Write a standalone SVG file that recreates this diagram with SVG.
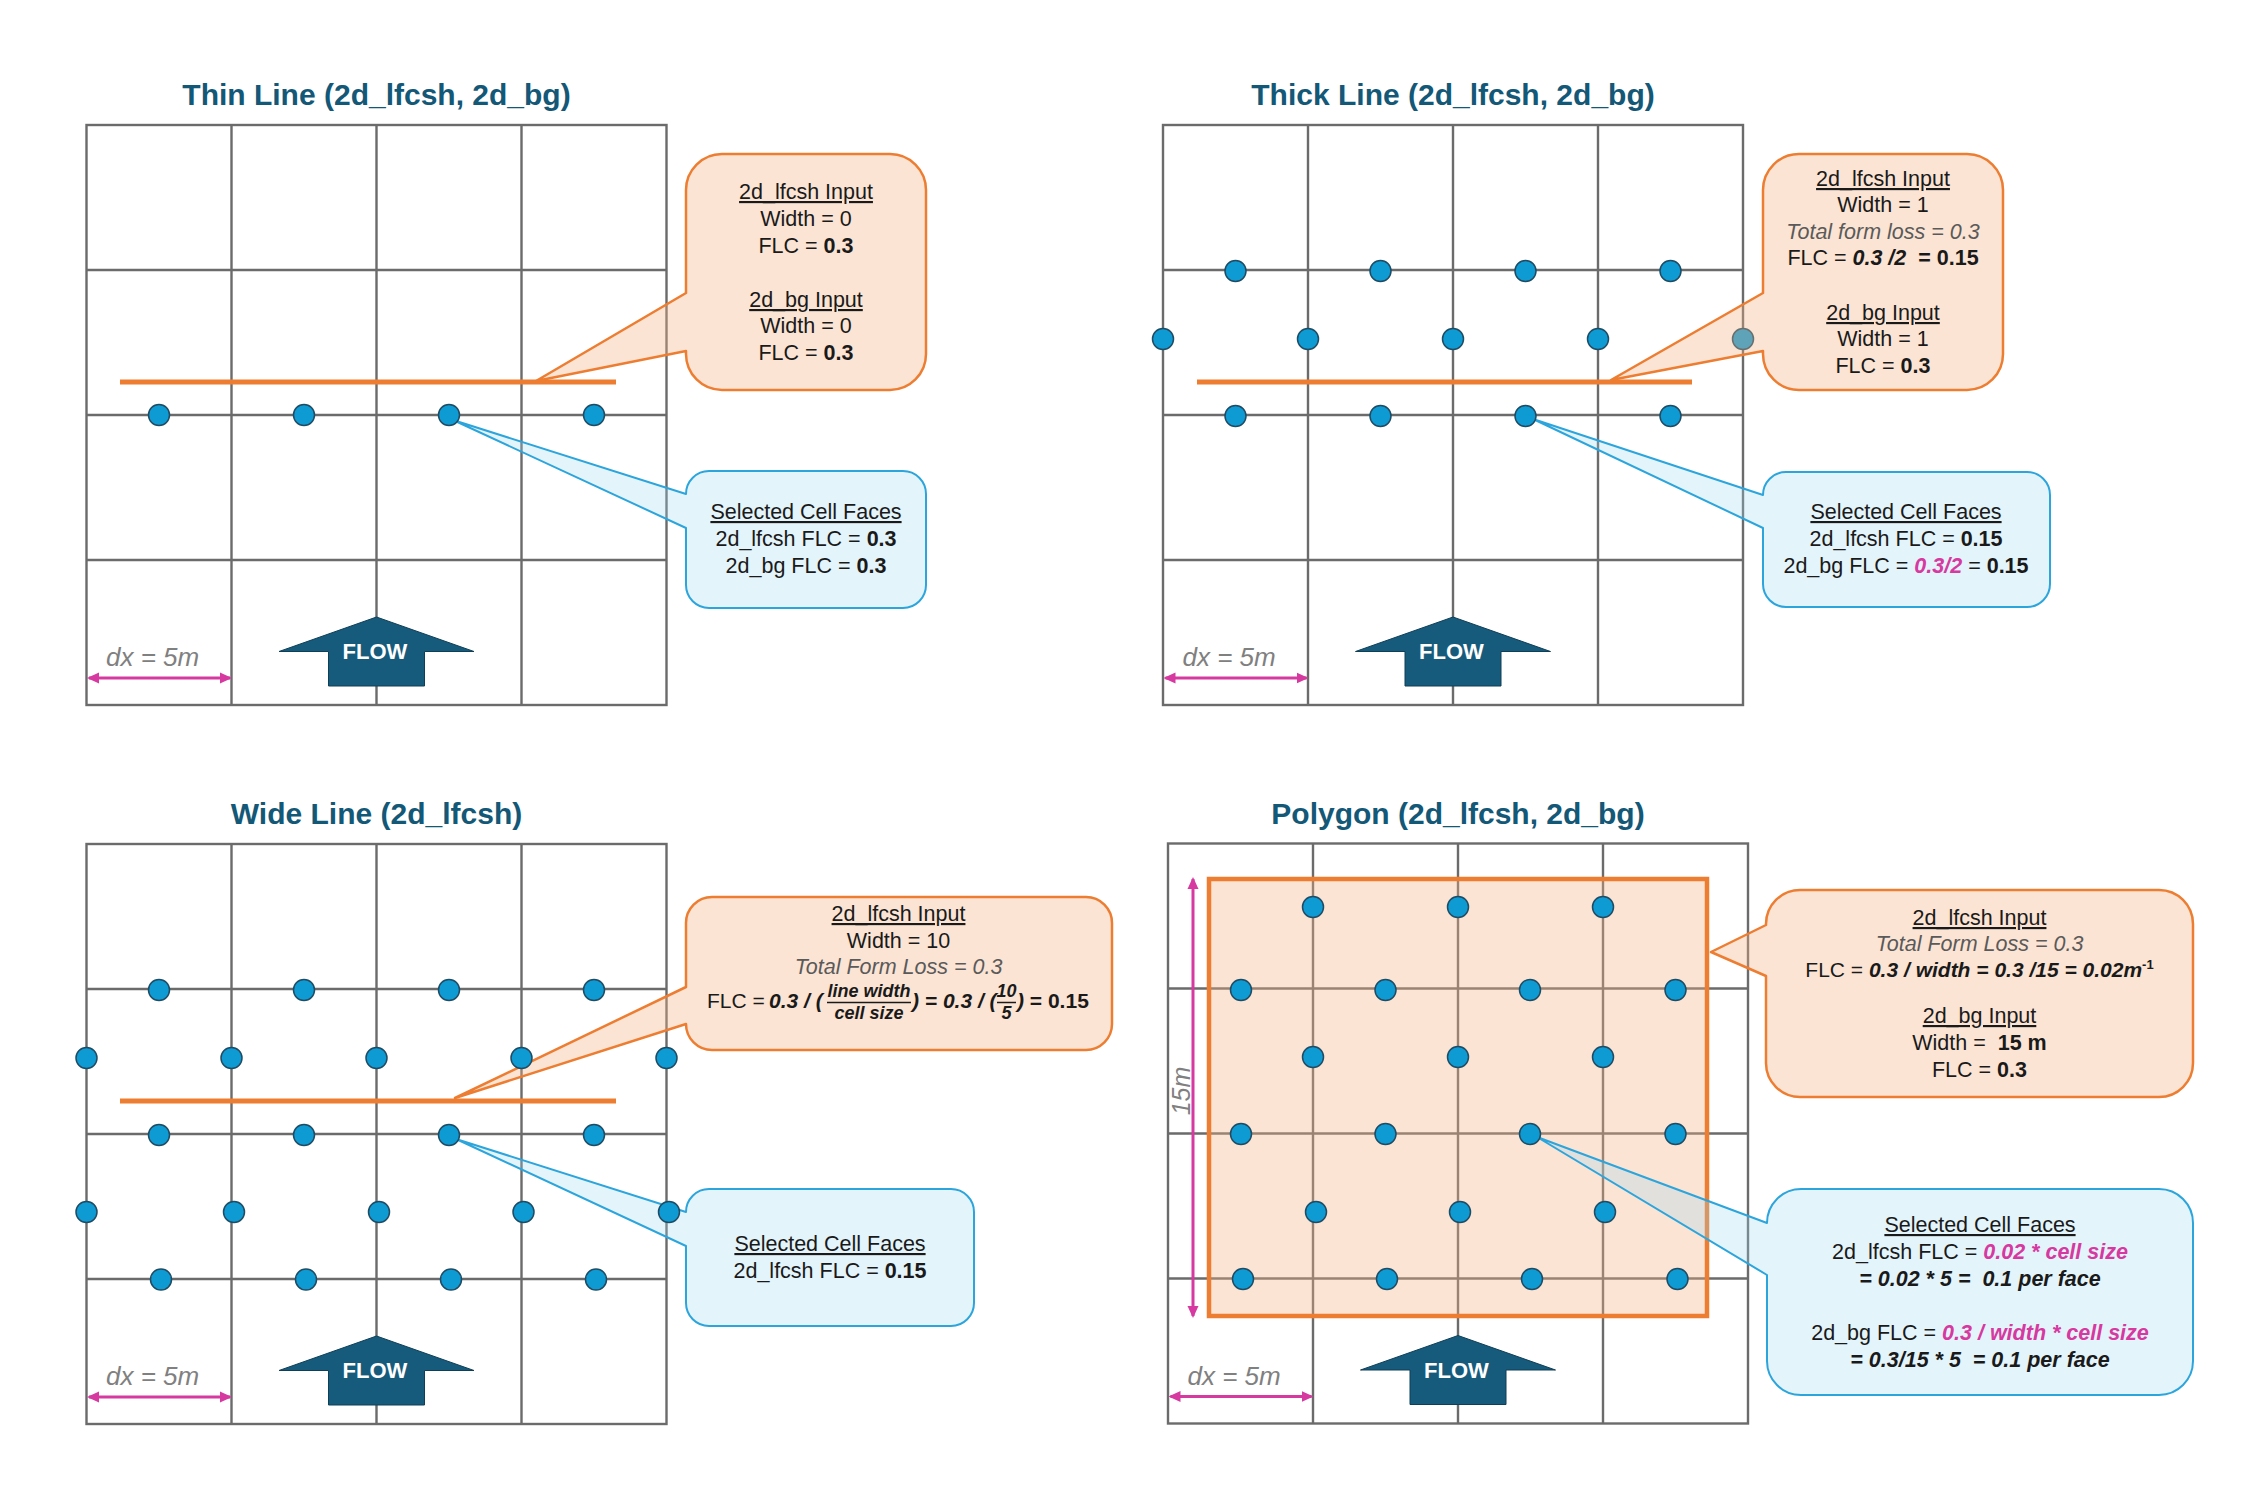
<svg xmlns="http://www.w3.org/2000/svg" xmlns:xlink="http://www.w3.org/1999/xlink" width="2268" height="1512" viewBox="0 0 2268 1512">
<style>
.grid{fill:none;stroke:#6b6b6b;stroke-width:2.4}
.t{font-family:"Liberation Sans",Arial,sans-serif;font-size:21.5px;fill:#1a1a1a;text-anchor:middle}
.fr{font-family:"Liberation Sans",Arial,sans-serif;font-size:18px;fill:#1a1a1a;text-anchor:middle;font-weight:bold;font-style:italic}
.title{font-family:"Liberation Sans",Arial,sans-serif;font-size:30px;font-weight:bold;fill:#135877;text-anchor:middle}
.u{text-decoration:underline}
.b{font-weight:bold}
.bi{font-weight:bold;font-style:italic}
.gi{font-style:italic;fill:#5a5a5a}
.mg{fill:#d6399f}
.dot{fill:#0e9bd4;stroke:#1f4b63;stroke-width:1.5}
.oline{stroke:#ed7d31;stroke-width:5}
.co{fill:#f4b183;fill-opacity:.35;stroke:#ed7d31;stroke-width:2.5;stroke-linejoin:round}
.cb{fill:#9dd8f2;fill-opacity:.28;stroke:#2ca5dc;stroke-width:2;stroke-linejoin:round}
.flow{fill:#175b7c;stroke:#0f3f57;stroke-width:1}
.flowt{font-family:"Liberation Sans",Arial,sans-serif;font-size:22px;font-weight:bold;fill:#ffffff;text-anchor:middle}
.dx{font-family:"Liberation Sans",Arial,sans-serif;font-size:26px;font-style:italic;fill:#808080}
.mar{stroke:#d6399f;stroke-width:3;fill:none}
.poly{fill:#f4b183;fill-opacity:.35;stroke:#ed7d31;stroke-width:4.5}
.bar{stroke:#1a1a1a;stroke-width:1.5}
</style>
<defs>
<marker id="ah" viewBox="0 0 12 12" refX="10" refY="6" markerWidth="12" markerHeight="12" markerUnits="userSpaceOnUse" orient="auto-start-reverse">
<path d="M0,0.5 L12,6 L0,11.5 Z" fill="#d6399f"/>
</marker>
<g id="gridTpl" class="grid">
<rect x="0" y="0" width="580" height="580"/>
<path d="M145 0V580M290 0V580M435 0V580M0 145H580M0 290H580M0 435H580"/>
</g>
<polygon id="flowTpl" class="flow" points="0,-88 97.5,-53.5 48,-53.5 48,-19 -48,-19 -48,-53.5 -97.5,-53.5"/>
</defs>
<rect x="0" y="0" width="2268" height="1512" fill="#ffffff"/>

<!-- Panel 1: Thin Line -->
<g id="panel-thin">
<text class="title" x="376.5" y="105">Thin Line (2d_lfcsh, 2d_bg)</text>
<use xlink:href="#gridTpl" x="86.5" y="125"/>
<line class="oline" x1="120" y1="382" x2="616" y2="382"/>
<use xlink:href="#flowTpl" x="376.5" y="705"/>
<text class="flowt" x="375" y="659">FLOW</text>
<line class="mar" x1="89" y1="678" x2="230" y2="678" marker-start="url(#ah)" marker-end="url(#ah)"/>
<text class="dx" x="106" y="666">dx = 5m</text>
<g id="thin-lfcsh-callout">
<path class="co" d="M722,154 H890 A36,36 0 0 1 926,190 V354 A36,36 0 0 1 890,390 H722 A36,36 0 0 1 686,354 V351 L536,381 L686,293 V190 A36,36 0 0 1 722,154 Z"/>
<text class="t" x="806" y="199"><tspan class="u">2d_lfcsh Input</tspan></text>
<text class="t" x="806" y="226">Width = 0</text>
<text class="t" x="806" y="253">FLC = <tspan class="b">0.3</tspan></text>
<text class="t" x="806" y="307"><tspan class="u">2d_bg Input</tspan></text>
<text class="t" x="806" y="333">Width = 0</text>
<text class="t" x="806" y="360">FLC = <tspan class="b">0.3</tspan></text>
</g>
<g id="thin-faces-callout">
<path class="cb" d="M709,471 H903 A23,23 0 0 1 926,494 V585 A23,23 0 0 1 903,608 H709 A23,23 0 0 1 686,585 V528 L453,420 L686,494 A23,23 0 0 1 709,471 Z"/>
<text class="t" x="806" y="519"><tspan class="u">Selected Cell Faces</tspan></text>
<text class="t" x="806" y="546">2d_lfcsh FLC = <tspan class="b">0.3</tspan></text>
<text class="t" x="806" y="573">2d_bg FLC = <tspan class="b">0.3</tspan></text>
</g>
<g id="thin-dots">
<circle class="dot" cx="159" cy="415" r="10.5"/><circle class="dot" cx="304" cy="415" r="10.5"/><circle class="dot" cx="449" cy="415" r="10.5"/><circle class="dot" cx="594" cy="415" r="10.5"/>
</g>
</g>

<!-- Panel 2: Thick Line -->
<g id="panel-thick">
<text class="title" x="1453" y="105">Thick Line (2d_lfcsh, 2d_bg)</text>
<use xlink:href="#gridTpl" x="1163" y="125"/>
<line class="oline" x1="1197" y1="382" x2="1692" y2="382"/>
<use xlink:href="#flowTpl" x="1453" y="705"/>
<text class="flowt" x="1451.5" y="659">FLOW</text>
<line class="mar" x1="1165.5" y1="678" x2="1306.5" y2="678" marker-start="url(#ah)" marker-end="url(#ah)"/>
<text class="dx" x="1182.5" y="666">dx = 5m</text>
<circle class="dot" cx="1743" cy="339" r="10.5"/>
<g id="thick-lfcsh-callout">
<path class="co" d="M1799,154 H1967 A36,36 0 0 1 2003,190 V354 A36,36 0 0 1 1967,390 H1799 A36,36 0 0 1 1763,354 V351 L1611,380 L1763,293 V190 A36,36 0 0 1 1799,154 Z"/>
<text class="t" x="1883" y="186"><tspan class="u">2d_lfcsh Input</tspan></text>
<text class="t" x="1883" y="212">Width = 1</text>
<text class="t" x="1883" y="239"><tspan class="gi">Total form loss = 0.3</tspan></text>
<text class="t" x="1883" y="265">FLC = <tspan class="bi">0.3 /2</tspan><tspan class="b">&#160; = 0.15</tspan></text>
<text class="t" x="1883" y="320"><tspan class="u">2d_bg Input</tspan></text>
<text class="t" x="1883" y="346">Width = 1</text>
<text class="t" x="1883" y="373">FLC = <tspan class="b">0.3</tspan></text>
</g>
<g id="thick-faces-callout">
<path class="cb" d="M1786,472 H2027 A23,23 0 0 1 2050,495 V584 A23,23 0 0 1 2027,607 H1786 A23,23 0 0 1 1763,584 V528 L1533,419 L1763,495 A23,23 0 0 1 1786,472 Z"/>
<text class="t" x="1906" y="519"><tspan class="u">Selected Cell Faces</tspan></text>
<text class="t" x="1906" y="546">2d_lfcsh FLC = <tspan class="b">0.15</tspan></text>
<text class="t" x="1906" y="573">2d_bg FLC = <tspan class="bi mg">0.3/2</tspan> = <tspan class="b">0.15</tspan></text>
</g>
<g id="thick-dots">
<circle class="dot" cx="1235.5" cy="271" r="10.5"/><circle class="dot" cx="1380.5" cy="271" r="10.5"/><circle class="dot" cx="1525.5" cy="271" r="10.5"/><circle class="dot" cx="1670.5" cy="271" r="10.5"/>
<circle class="dot" cx="1163" cy="339" r="10.5"/><circle class="dot" cx="1308" cy="339" r="10.5"/><circle class="dot" cx="1453" cy="339" r="10.5"/><circle class="dot" cx="1598" cy="339" r="10.5"/>
<circle class="dot" cx="1235.5" cy="416" r="10.5"/><circle class="dot" cx="1380.5" cy="416" r="10.5"/><circle class="dot" cx="1525.5" cy="416" r="10.5"/><circle class="dot" cx="1670.5" cy="416" r="10.5"/>
</g>
</g>

<!-- Panel 3: Wide Line -->
<g id="panel-wide">
<text class="title" x="376.5" y="824">Wide Line (2d_lfcsh)</text>
<use xlink:href="#gridTpl" x="86.5" y="844"/>
<line class="oline" x1="120" y1="1101" x2="616" y2="1101"/>
<use xlink:href="#flowTpl" x="376.5" y="1424"/>
<text class="flowt" x="375" y="1378">FLOW</text>
<line class="mar" x1="89" y1="1397" x2="230" y2="1397" marker-start="url(#ah)" marker-end="url(#ah)"/>
<text class="dx" x="106" y="1385">dx = 5m</text>
<g id="wide-lfcsh-callout">
<path class="co" d="M712,897 H1086 A26,26 0 0 1 1112,923 V1024 A26,26 0 0 1 1086,1050 H712 A26,26 0 0 1 686,1024 L455,1098 L686,987 V923 A26,26 0 0 1 712,897 Z"/>
<text class="t" x="898.5" y="921"><tspan class="u">2d_lfcsh Input</tspan></text>
<text class="t" x="898.5" y="948">Width = 10</text>
<text class="t" x="898.5" y="974"><tspan class="gi">Total Form Loss = 0.3</tspan></text>
<text class="t" y="1008" style="text-anchor:start;font-size:21px"><tspan x="707">FLC =</tspan><tspan x="769" class="bi">0.3 / (</tspan><tspan x="912" class="bi">) = 0.3 / (</tspan><tspan x="1017" class="bi">)</tspan><tspan class="b"> = 0.15</tspan></text>
<text class="fr" x="869" y="997">line width</text>
<line class="bar" x1="827" y1="1002.5" x2="911" y2="1002.5"/>
<text class="fr" x="869" y="1019">cell size</text>
<text class="fr" x="1006.5" y="997">10</text>
<line class="bar" x1="997" y1="1002.5" x2="1016" y2="1002.5"/>
<text class="fr" x="1006.5" y="1019">5</text>
</g>
<g id="wide-faces-callout">
<path class="cb" d="M709,1189 H951 A23,23 0 0 1 974,1212 V1303 A23,23 0 0 1 951,1326 H709 A23,23 0 0 1 686,1303 V1246 L456,1139 L686,1212 A23,23 0 0 1 709,1189 Z"/>
<text class="t" x="830" y="1251"><tspan class="u">Selected Cell Faces</tspan></text>
<text class="t" x="830" y="1278">2d_lfcsh FLC = <tspan class="b">0.15</tspan></text>
</g>
<g id="wide-dots">
<circle class="dot" cx="159" cy="990" r="10.5"/><circle class="dot" cx="304" cy="990" r="10.5"/><circle class="dot" cx="449" cy="990" r="10.5"/><circle class="dot" cx="594" cy="990" r="10.5"/>
<circle class="dot" cx="86.5" cy="1058" r="10.5"/><circle class="dot" cx="231.5" cy="1058" r="10.5"/><circle class="dot" cx="376.5" cy="1058" r="10.5"/><circle class="dot" cx="521.5" cy="1058" r="10.5"/><circle class="dot" cx="666.5" cy="1058" r="10.5"/>
<circle class="dot" cx="159" cy="1135" r="10.5"/><circle class="dot" cx="304" cy="1135" r="10.5"/><circle class="dot" cx="449" cy="1135" r="10.5"/><circle class="dot" cx="594" cy="1135" r="10.5"/>
<circle class="dot" cx="86.5" cy="1212" r="10.5"/><circle class="dot" cx="234" cy="1212" r="10.5"/><circle class="dot" cx="379" cy="1212" r="10.5"/><circle class="dot" cx="523.5" cy="1212" r="10.5"/><circle class="dot" cx="669" cy="1212" r="10.5"/>
<circle class="dot" cx="161" cy="1279.5" r="10.5"/><circle class="dot" cx="306" cy="1279.5" r="10.5"/><circle class="dot" cx="451" cy="1279.5" r="10.5"/><circle class="dot" cx="596" cy="1279.5" r="10.5"/>
</g>
</g>

<!-- Panel 4: Polygon -->
<g id="panel-polygon">
<text class="title" x="1458" y="824">Polygon (2d_lfcsh, 2d_bg)</text>
<use xlink:href="#gridTpl" x="1168" y="843.5"/>
<rect class="poly" x="1209" y="879" width="498" height="437"/>
<line class="mar" x1="1193" y1="879" x2="1193" y2="1316" marker-start="url(#ah)" marker-end="url(#ah)"/>
<text class="dx" transform="translate(1190,1091) rotate(-90)" text-anchor="middle" style="font-size:25px">15m</text>
<use xlink:href="#flowTpl" x="1458" y="1423.5"/>
<text class="flowt" x="1456.5" y="1377.5">FLOW</text>
<line class="mar" x1="1170.5" y1="1396.5" x2="1311.5" y2="1396.5" marker-start="url(#ah)" marker-end="url(#ah)"/>
<text class="dx" x="1187.5" y="1384.5">dx = 5m</text>
<g id="poly-lfcsh-callout">
<path class="co" d="M1800,890 H2159 A34,34 0 0 1 2193,924 V1063 A34,34 0 0 1 2159,1097 H1800 A34,34 0 0 1 1766,1063 V976 L1711,952 L1766,925 V924 A34,34 0 0 1 1800,890 Z"/>
<text class="t" x="1979.5" y="925"><tspan class="u">2d_lfcsh Input</tspan></text>
<text class="t" x="1979.5" y="951"><tspan class="gi">Total Form Loss = 0.3</tspan></text>
<text class="t" x="1979.5" y="977" style="font-size:21px">FLC = <tspan class="bi">0.3 / width = 0.3 /15 = 0.02m</tspan><tspan class="b" style="font-size:13px" dy="-8">-1</tspan></text>
<text class="t" x="1979.5" y="1023"><tspan class="u">2d_bg Input</tspan></text>
<text class="t" x="1979.5" y="1050">Width = <tspan class="b">&#160;15 m</tspan></text>
<text class="t" x="1979.5" y="1077">FLC = <tspan class="b">0.3</tspan></text>
</g>
<g id="poly-faces-callout">
<path class="cb" d="M1801,1189 H2159 A34,34 0 0 1 2193,1223 V1361 A34,34 0 0 1 2159,1395 H1801 A34,34 0 0 1 1767,1361 V1275 L1537,1137 L1767,1223 A34,34 0 0 1 1801,1189 Z"/>
<text class="t" x="1980" y="1232"><tspan class="u">Selected Cell Faces</tspan></text>
<text class="t" x="1980" y="1259">2d_lfcsh FLC = <tspan class="bi mg">0.02 * cell size</tspan></text>
<text class="t" x="1980" y="1286"><tspan class="bi">= 0.02 * 5 = &#160;0.1 per face</tspan></text>
<text class="t" x="1980" y="1340">2d_bg FLC = <tspan class="bi mg">0.3 / width * cell size</tspan></text>
<text class="t" x="1980" y="1367"><tspan class="bi">= 0.3/15 * 5 &#160;= 0.1 per face</tspan></text>
</g>
<g id="poly-dots">
<circle class="dot" cx="1313" cy="907" r="10.5"/><circle class="dot" cx="1458" cy="907" r="10.5"/><circle class="dot" cx="1603" cy="907" r="10.5"/>
<circle class="dot" cx="1241" cy="990" r="10.5"/><circle class="dot" cx="1385.5" cy="990" r="10.5"/><circle class="dot" cx="1530" cy="990" r="10.5"/><circle class="dot" cx="1675.5" cy="990" r="10.5"/>
<circle class="dot" cx="1313" cy="1057" r="10.5"/><circle class="dot" cx="1458" cy="1057" r="10.5"/><circle class="dot" cx="1603" cy="1057" r="10.5"/>
<circle class="dot" cx="1241" cy="1134" r="10.5"/><circle class="dot" cx="1385.5" cy="1134" r="10.5"/><circle class="dot" cx="1530" cy="1134" r="10.5"/><circle class="dot" cx="1675.5" cy="1134" r="10.5"/>
<circle class="dot" cx="1316" cy="1212" r="10.5"/><circle class="dot" cx="1460" cy="1212" r="10.5"/><circle class="dot" cx="1605" cy="1212" r="10.5"/>
<circle class="dot" cx="1243" cy="1279" r="10.5"/><circle class="dot" cx="1387" cy="1279" r="10.5"/><circle class="dot" cx="1532" cy="1279" r="10.5"/><circle class="dot" cx="1677.5" cy="1279" r="10.5"/>
</g>
</g>
</svg>
